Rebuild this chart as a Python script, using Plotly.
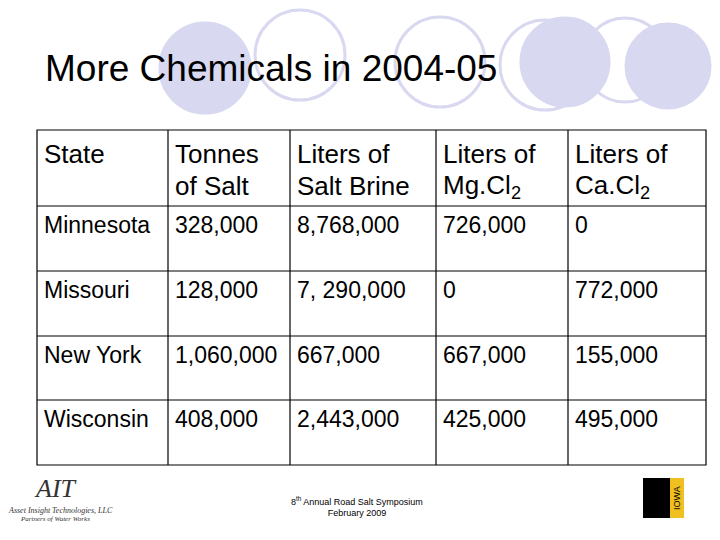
import plotly.graph_objects as go

# Data
headers = [["State"], ["Tonnes", "of Salt"], ["Liters of", "Salt Brine"],
           ["Liters of", "Mg.Cl<sub>2</sub>"], ["Liters of", "Ca.Cl<sub>2</sub>"]]
states = ["Minnesota", "Missouri", "New York", "Wisconsin"]
salt = ["328,000", "128,000", "1,060,000", "408,000"]
brine = ["8,768,000", "7, 290,000", "667,000", "2,443,000"]
mgcl = ["726,000", "0", "667,000", "425,000"]
cacl = ["0", "772,000", "155,000", "495,000"]

col_x = [37, 168, 290, 436, 568, 706]
row_y = [130, 206, 271, 336, 400, 465]

fig = go.Figure()
fig.add_trace(go.Scatter(x=[8, 728], y=[8, 548], mode="markers", marker=dict(opacity=0), hoverinfo="skip"))

shapes = []
# decorative circles
for cx, cy, r, filled in [(205, 68, 45, True), (300, 55, 45, False), (440, 62, 45, False),
                          (545, 65, 45, False), (565, 62, 44, True), (625, 60, 42, False), (668, 66, 42, True)]:
    shapes.append(dict(type="circle", xref="x", yref="y", x0=cx - r, x1=cx + r, y0=cy - r, y1=cy + r,
                       fillcolor="#d8d8f0" if filled else "rgba(0,0,0,0)",
                       line=dict(color="#d8d8f0", width=3), layer="below"))
shapes.append(dict(type="rect", xref="x", yref="y", x0=37, x1=706, y0=row_y[0], y1=row_y[-1],
                   line=dict(color="black", width=1.2), fillcolor="white"))
for x in col_x[1:-1]:
    shapes.append(dict(type="line", xref="x", yref="y", x0=x, x1=x, y0=row_y[0], y1=row_y[-1],
                       line=dict(color="black", width=1.2)))
for y in row_y[1:-1]:
    shapes.append(dict(type="line", xref="x", yref="y", x0=col_x[0], x1=col_x[-1], y0=y, y1=y,
                       line=dict(color="black", width=1.2)))

ann = []
font = dict(family="Liberation Sans, Arial", size=26, color="black")
ann.append(dict(x=43, y=68, text="More Chemicals in 2004-05", showarrow=False, xanchor="left",
                yanchor="middle", font=dict(family="Liberation Sans, Arial", size=37, color="black")))
for i, h in enumerate(headers):
    for j, line in enumerate(h):
        ann.append(dict(x=col_x[i] + 5, y=154 + 32 * j, text=line, showarrow=False, xanchor="left",
                        yanchor="middle", font=font))
cols = [states, salt, brine, mgcl, cacl]
dfont = dict(family="Liberation Sans, Arial", size=23, color="black")
for i, c in enumerate(cols):
    for r, v in enumerate(c):
        ann.append(dict(x=col_x[i] + 5, y=row_y[r + 1] + 19, text=v, showarrow=False, xanchor="left",
                        yanchor="middle", font=dfont))
ann.append(dict(x=357, y=506, text="8<sup>th</sup> Annual Road Salt Symposium<br>February 2009",
                showarrow=False, font=dict(family="Liberation Sans, Arial", size=9, color="black")))
ann.append(dict(x=55, y=488, text="<i>AIT</i>", showarrow=False,
                font=dict(family="Liberation Serif", size=26, color="#333333")))
ann.append(dict(x=60, y=510, text="<i>Asset Insight Technologies, LLC</i>", showarrow=False,
                font=dict(family="Liberation Serif", size=8, color="#333333")))
ann.append(dict(x=55, y=519, text="<i>Partners of Water Works</i>", showarrow=False,
                font=dict(family="Liberation Serif", size=7, color="#333333")))
shapes.append(dict(type="rect", xref="x", yref="y", x0=643, x1=684, y0=478, y1=518,
                   fillcolor="black", line=dict(width=0)))
shapes.append(dict(type="rect", xref="x", yref="y", x0=670, x1=684, y0=478, y1=518,
                   fillcolor="#f0c020", line=dict(width=0)))
ann.append(dict(x=677, y=498, text="IOWA", textangle=-90, showarrow=False,
                font=dict(family="Liberation Sans", size=9, color="black")))

fig.update_layout(
    width=720, height=540, margin=dict(l=0, r=0, t=0, b=0),
    paper_bgcolor="white", plot_bgcolor="white", showlegend=False,
    xaxis=dict(range=[8, 728], visible=False),
    yaxis=dict(range=[548, 8], visible=False),
    shapes=shapes, annotations=ann,
)
fig.write_html("out.html")
